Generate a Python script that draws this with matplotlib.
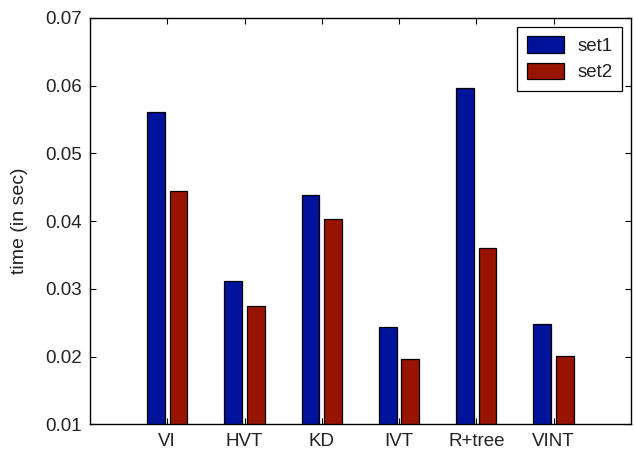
import numpy as np
import matplotlib
matplotlib.use("Agg")
import matplotlib.pyplot as plt

categories = ["VI", "HVT", "KD", "IVT", "R+tree", "VINT"]
set1 = [0.0561, 0.0311, 0.0438, 0.0243, 0.0597, 0.0248]
set2 = [0.0445, 0.0274, 0.0403, 0.0196, 0.0361, 0.0201]
yticks = [0.01, 0.02, 0.03, 0.04, 0.05, 0.06, 0.07]

COLORS = {"set1": "#00139A", "set2": "#991400"}

plt.rcParams.update({
    "font.family": ["Liberation Sans", "DejaVu Sans"],
    "axes.linewidth": 1.0,
    "xtick.direction": "in",
    "ytick.direction": "in",
    "xtick.top": True,
    "ytick.right": True,
    "xtick.major.size": 4,
    "ytick.major.size": 4,
})

fig = plt.figure(figsize=(6.34, 4.55), dpi=100)
ax = fig.add_axes([0.142, 0.0675, 0.853, 0.893])

x = np.arange(1, len(categories) + 1)
BAR_W = 0.23
OFF = 0.145

ax.bar(x - OFF, set1, width=BAR_W, color=COLORS["set1"], edgecolor="black",
       linewidth=0.9, label="set1", zorder=2)
ax.bar(x + OFF, set2, width=BAR_W, color=COLORS["set2"], edgecolor="black",
       linewidth=0.9, label="set2", zorder=2)

ax.set_xlim(0, 7)
ax.set_ylim(0.01, 0.07)
ax.set_xticks(x)
ax.set_xticklabels(categories, fontsize=13.5, color="#222222")
ax.set_yticks(yticks)
ax.set_yticklabels([f"{v:.2f}" for v in yticks], fontsize=13.5, color="#222222")
ax.tick_params(axis="both", pad=6)
ax.set_ylabel("time (in sec)", fontsize=14, labelpad=12, color="#222222")

leg = ax.legend(loc="upper right", fontsize=13.5, fancybox=False,
                edgecolor="black", framealpha=1, handlelength=2.0,
                handleheight=1.0, labelspacing=0.4, borderaxespad=0.48,
                handletextpad=0.7, borderpad=0.5)
leg.get_frame().set_linewidth(0.9)
for t in leg.get_texts():
    t.set_color("#222222")

fig.savefig("out.png", dpi=100)
